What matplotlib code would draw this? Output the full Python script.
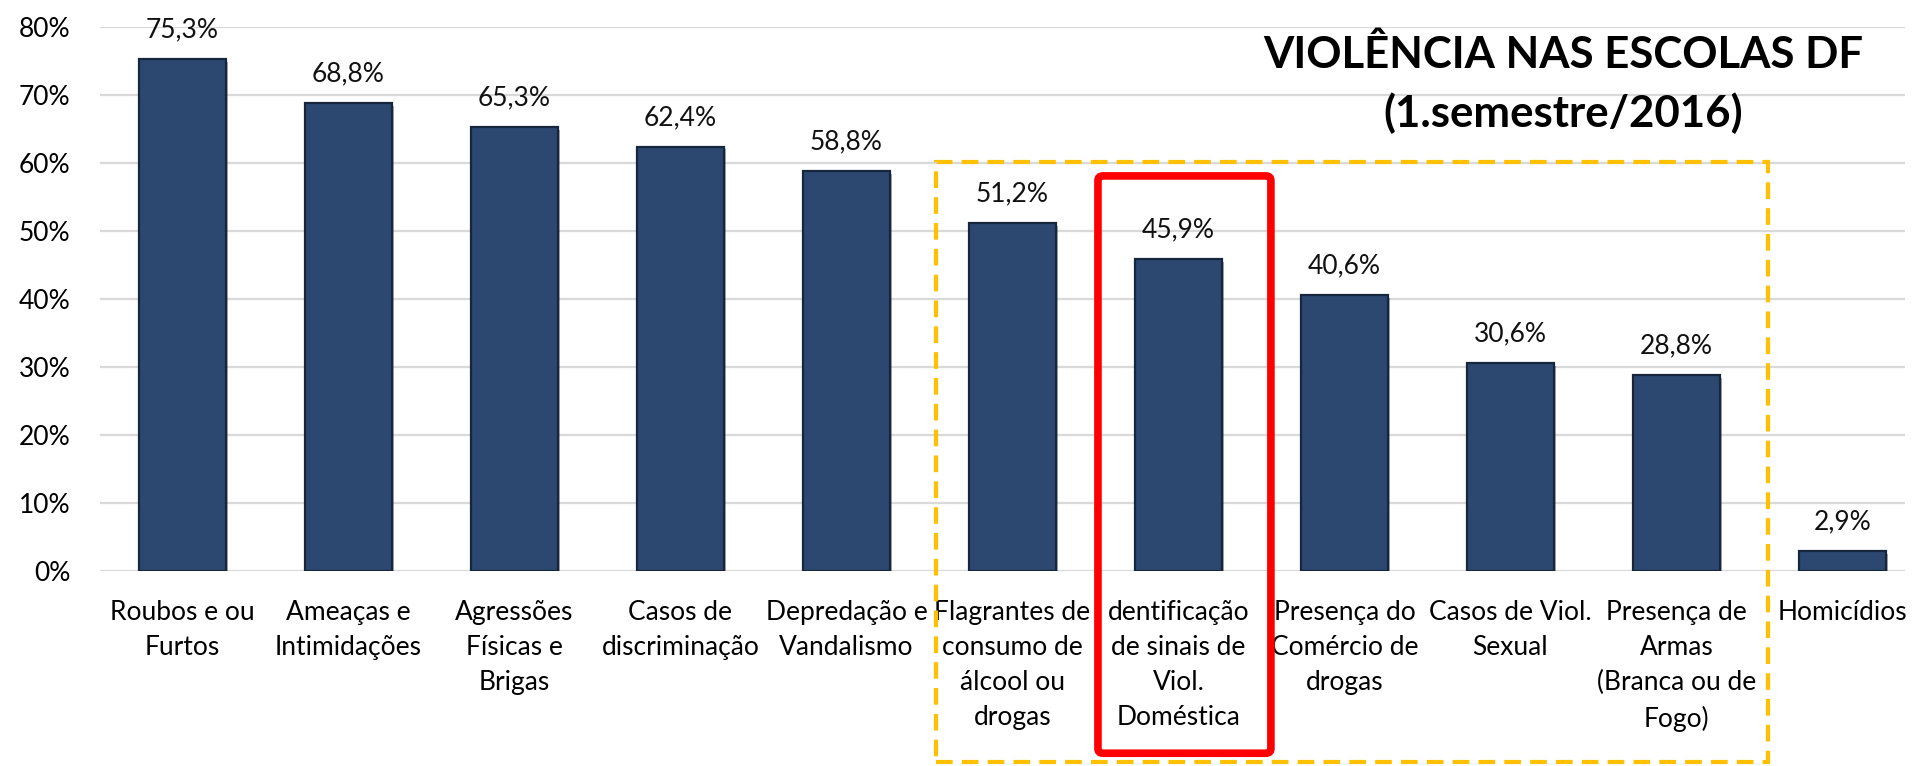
import matplotlib
matplotlib.use("Agg")
import matplotlib.pyplot as plt
from matplotlib.patches import Rectangle, FancyBboxPatch
import matplotlib.patheffects as pe

categories = [
    "Roubos e ou\nFurtos",
    "Ameaças e\nIntimidações",
    "Agressões\nFísicas e\nBrigas",
    "Casos de\ndiscriminação",
    "Depredação e\nVandalismo",
    "Flagrantes de\nconsumo de\nálcool ou\ndrogas",
    "dentificação\nde sinais de\nViol.\nDoméstica",
    "Presença do\nComércio de\ndrogas",
    "Casos de Viol.\nSexual",
    "Presença de\nArmas\n(Branca ou de\nFogo)",
    "Homicídios",
]
values = [75.3, 68.8, 65.3, 62.4, 58.8, 51.2, 45.9, 40.6, 30.6, 28.8, 2.9]
value_labels = ["75,3%", "68,8%", "65,3%", "62,4%", "58,8%", "51,2%",
                "45,9%", "40,6%", "30,6%", "28,8%", "2,9%"]
yticks = [0, 10, 20, 30, 40, 50, 60, 70, 80]
ytick_labels = ["0%", "10%", "20%", "30%", "40%", "50%", "60%", "70%", "80%"]
title = "VIOLÊNCIA NAS ESCOLAS DF\n(1.semestre/2016)"

plt.rcParams['font.family'] = ['Lato', 'DejaVu Sans']

W, H = 1912, 766
fig = plt.figure(figsize=(W / 100, H / 100), dpi=100)
ax_left, ax_right = 99.5, 1905
ax_top, ax_bottom = 27, 571
ax = fig.add_axes([ax_left / W, 1 - ax_bottom / H,
                   (ax_right - ax_left) / W, (ax_bottom - ax_top) / H])

x = list(range(len(categories)))
bars = ax.bar(x, values, width=0.52, color="#2C4770", edgecolor="#16263C",
              linewidth=1.6, zorder=3)
for b in bars:
    b.set_path_effects([pe.SimplePatchShadow(offset=(2, -2), alpha=0.35),
                        pe.Normal()])

for xi, v, lab in zip(x, values, value_labels):
    ax.annotate(lab, (xi, v), xytext=(0, 12), textcoords="offset points",
                ha="center", va="bottom", fontsize=19, color="#111111",
                zorder=4, annotation_clip=False)

ax.set_xlim(-0.5, 10.377)
ax.set_ylim(0, 80)
ax.set_yticks(yticks)
ax.set_yticklabels(ytick_labels, fontsize=19)
ax.set_xticks(x)
ax.set_xticklabels(categories, fontsize=19, linespacing=1.5)
ax.tick_params(axis="both", length=0)
ax.tick_params(axis="y", pad=21)
ax.tick_params(axis="x", pad=21)
ax.grid(axis="y", color="#D9D9D9", linewidth=1.6, zorder=0)
for s in ax.spines.values():
    s.set_visible(False)

# orange dashed highlight box
rect = Rectangle((4.54, -28.1), 9.55 - 4.54, 60.1 + 28.1, fill=False,
                 edgecolor="#FFC000", linewidth=3, linestyle=(0, (4, 2.2)),
                 clip_on=False, zorder=5)
ax.add_patch(rect)

# red rounded highlight box
px_per_x = (ax_right - ax_left) / (10.377 + 0.5)
px_per_y = (ax_bottom - ax_top) / 80
red = FancyBboxPatch((5.515, -26.8), 6.557 - 5.515, 58.1 + 26.8,
                     boxstyle="round,pad=0,rounding_size=0.03",
                     mutation_aspect=(px_per_x / px_per_y),
                     fill=False, edgecolor="#FF0000", linewidth=5.5,
                     clip_on=False, zorder=6)
ax.add_patch(red)

fig.text(1563 / W, 1 - 84 / H, title, ha="center", va="center",
         multialignment="center", fontsize=31.5, fontweight="bold",
         linespacing=1.5)

fig.savefig("out.png", dpi=100, facecolor="white")
